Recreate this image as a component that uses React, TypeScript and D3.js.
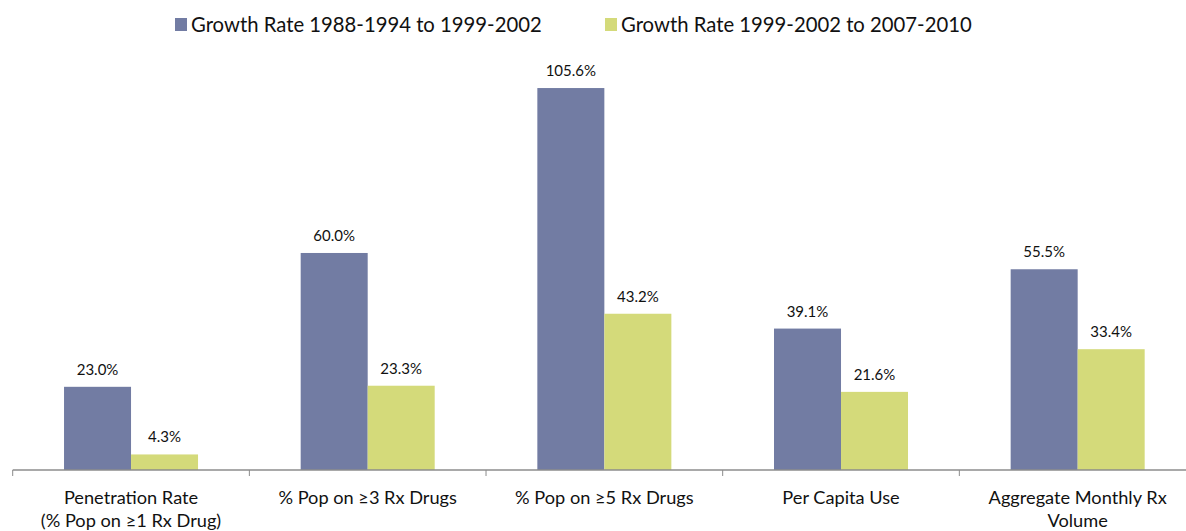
import React from "react";
import * as d3 from "d3";

const categories: string[][] = [
  ["Penetration Rate", "(% Pop on ≥1 Rx Drug)"],
  ["% Pop on ≥3 Rx Drugs"],
  ["% Pop on ≥5 Rx Drugs"],
  ["Per Capita Use"],
  ["Aggregate Monthly Rx", "Volume"],
];
const seriesNames = [
  "Growth Rate 1988-1994 to 1999-2002",
  "Growth Rate 1999-2002 to 2007-2010",
];
const growthEarly = [23.0, 60.0, 105.6, 39.1, 55.5];
const growthLate = [4.3, 23.3, 43.2, 21.6, 33.4];
const colors = ["#727ca3", "#d4da7a"];

const W = 1186;
const H = 531;
const FONT = "Lato, 'Open Sans', sans-serif";

export default function App() {
  const keys = categories.map((_, i) => String(i));
  const x0 = d3.scaleBand<string>().domain(keys).range([12.7, 1196]).paddingInner(0).paddingOuter(0);
  const x1 = d3
    .scaleBand<string>()
    .domain(["0", "1"])
    .range([0, x0.bandwidth()])
    .paddingInner(0)
    .paddingOuter(0.766);
  const y = d3.scaleLinear().domain([0, 120]).range([470, 470 - 120 * 3.617]);
  const series = [growthEarly, growthLate];
  const boundaries = keys.map((k) => x0(k)!);

  return (
    <svg
      width={W}
      height={H}
      style={{ position: "absolute", left: 0, top: 0, background: "#fff" }}
      fontFamily={FONT}
    >
      {/* legend */}
      {seriesNames.map((name, i) => {
        const lx = i === 0 ? 175 : 605;
        return (
          <g key={name}>
            <rect x={lx} y={18} width={12} height={13} fill={colors[i]} />
            <text x={lx + 16} y={31.5} fontSize={20.3} fill="#111">
              {name}
            </text>
          </g>
        );
      })}

      {/* bars and value labels */}
      {series.map((vals, s) =>
        vals.map((v, i) => {
          const bx = x0(keys[i])! + x1(String(s))!;
          return (
            <g key={`${s}-${i}`}>
              <rect x={bx} y={y(v)} width={x1.bandwidth()} height={y(0) - y(v)} fill={colors[s]} />
              <text
                x={bx + x1.bandwidth() / 2}
                y={y(v) - 12}
                textAnchor="middle"
                fontSize={15}
                fill="#111"
              >
                {v.toFixed(1) + "%"}
              </text>
            </g>
          );
        })
      )}

      {/* category axis */}
      <line x1={12.7} x2={1196} y1={y(0)} y2={y(0)} stroke="#8c8c8c" strokeWidth={1.5} />
      {boundaries.map((bx, i) => (
        <line key={i} x1={bx} x2={bx} y1={y(0)} y2={y(0) + 6} stroke="#8c8c8c" strokeWidth={1} />
      ))}
      {categories.map((lines, i) => (
        <text
          key={i}
          x={x0(keys[i])! + x0.bandwidth() / 2}
          y={503.5}
          textAnchor="middle"
          fontSize={18.2}
          fill="#111"
        >
          {lines.map((ln, j) => (
            <tspan key={j} x={x0(keys[i])! + x0.bandwidth() / 2} dy={j === 0 ? 0 : 23.5}>
              {ln}
            </tspan>
          ))}
        </text>
      ))}
    </svg>
  );
}
